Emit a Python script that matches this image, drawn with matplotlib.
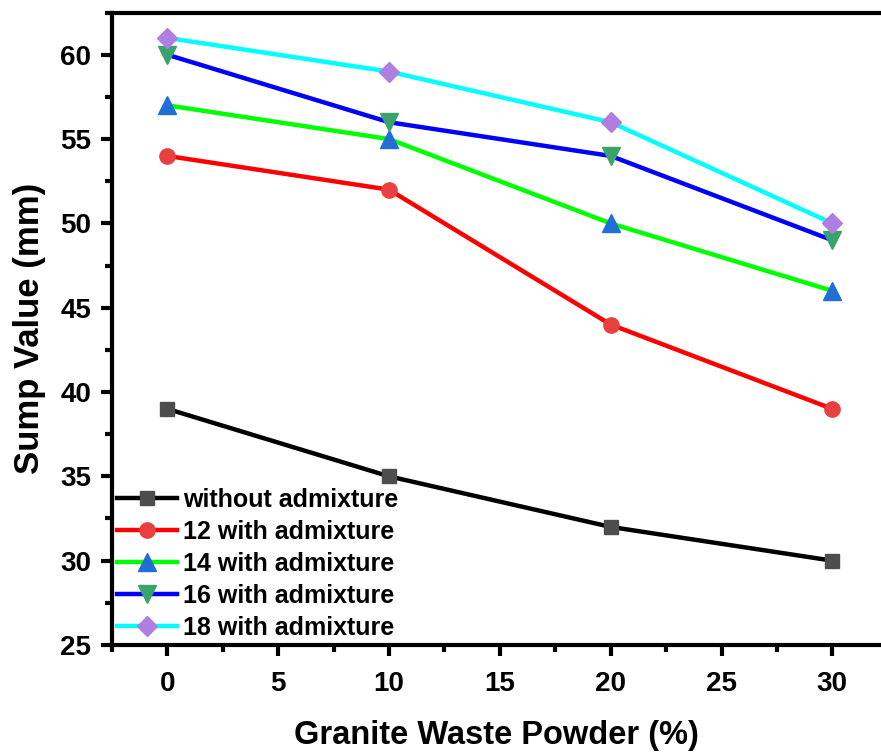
import matplotlib
matplotlib.use("Agg")
import matplotlib.pyplot as plt
from matplotlib.ticker import MultipleLocator

plt.rcParams["font.family"] = ["Liberation Sans", "DejaVu Sans"]
plt.rcParams["font.weight"] = "bold"

granite = [0, 10, 20, 30]
without_adm = [39, 35, 32, 30]
adm_12 = [54, 52, 44, 39]
adm_14 = [57, 55, 50, 46]
adm_16 = [60, 56, 54, 49]
adm_18 = [61, 59, 56, 50]

labels = ["without admixture", "12 with admixture", "14 with admixture",
          "16 with admixture", "18 with admixture"]
line_colors = ["#000000", "#ff0000", "#00ff00", "#0000ff", "#00ffff"]
marker_colors = ["#4d4d4d", "#e84040", "#1f6fd6", "#3aa36b", "#b07ee0"]
markers = ["s", "o", "^", "v", "D"]
sizes = [10, 11, 13, 13, 10]

fig = plt.figure(figsize=(8.81, 7.54), dpi=100)
ax = fig.add_axes([0.1271, 0.1446, 0.873, 0.8387])

for ys, lab, lc, mc, m, ms in zip([without_adm, adm_12, adm_14, adm_16, adm_18],
                                  labels, line_colors, marker_colors, markers, sizes):
    ax.plot(granite, ys, color=lc, lw=3.2, marker=m, markersize=ms,
            markerfacecolor=mc, markeredgecolor=mc, label=lab)

ax.set_xlim(-2.5, 32.2)
ax.set_ylim(25, 62.5)
ax.xaxis.set_major_locator(MultipleLocator(5))
ax.xaxis.set_minor_locator(MultipleLocator(2.5))
ax.yaxis.set_major_locator(MultipleLocator(5))
ax.yaxis.set_minor_locator(MultipleLocator(2.5))

for s in ["left", "bottom", "top"]:
    ax.spines[s].set_linewidth(3)
ax.spines["right"].set_visible(False)
ax.tick_params(which="major", direction="out", length=8, width=3, labelsize=20)
ax.tick_params(which="minor", direction="out", length=5, width=3)
ax.tick_params(axis="x", which="major", pad=11)
ax.tick_params(axis="y", which="major", pad=7)
ax.tick_params(top=False, right=False)

ax.set_xlabel("Granite Waste Powder (%)", fontsize=23.5, fontweight="bold", labelpad=16)
ax.set_ylabel("Sump Value (mm)", fontsize=25, fontweight="bold", labelpad=10)

ax.legend(loc="lower left", frameon=False, fontsize=18, handlelength=2.4,
          handletextpad=0.25, labelspacing=0.32, borderpad=0.2, borderaxespad=0.0,
          bbox_to_anchor=(0.0, 0.0))

fig.savefig("out.png", dpi=100)
